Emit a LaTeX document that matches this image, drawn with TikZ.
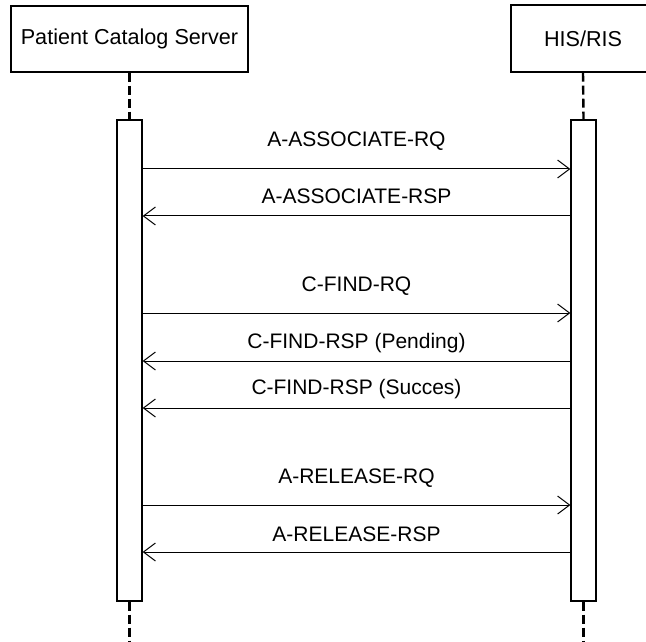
\documentclass[tikz,border=0pt]{standalone}
\usepackage{fontspec}
\setmainfont{Liberation Sans}
\usetikzlibrary{arrows.meta}
\tikzset{
	actor/.style={draw, line width=0.6pt, inner sep=0pt, font=\fontsize{10.8}{13}\selectfont},
	activation/.style={draw, line width=0.6pt, fill=white, inner sep=0pt, minimum width=12.5pt, minimum height=240.5pt},
	lifeline/.style={line width=1.2pt, dash pattern=on 4.5pt off 2pt},
	call/.style={line width=0.5pt, -{Straight Barb[length=6pt,width=9pt,line width=0.5pt]}},
	msg/.style={anchor=base, inner sep=0pt, font=\fontsize{10.5}{12}\selectfont}
}

\begin{document}
\begin{tikzpicture}[x=0.5pt, y=-0.5pt]
			%%%%% START %%%%%
			
			\useasboundingbox (0, 0) rectangle (646, 641);
			\clip (0, 0) rectangle (646, 641);
			
			% the two parties
			\node[actor, minimum width=118.5pt, minimum height=33pt] (pcs) at (129.5, 39) {Patient Catalog Server};
			\node[actor, minimum width=72pt, minimum height=33.5pt] (his) at (583, 38.5) {HIS/RIS};
			
			% activation bars
			\node[activation] (actL) at (129.5, 360.5) {};
			\node[activation] (actR) at (583.5, 360.5) {};
			
			\coordinate (endL) at (129.5, 641);
			\coordinate (endR) at (583.5, 641);
			
			\draw[lifeline] (pcs.south) -- (actL.north);
			\draw[lifeline] (his.south) -- (actR.north);
			\draw[lifeline] (actL.south) -- (endL);
			\draw[lifeline] (actR.south) -- (endR);
			
			% association
			\coordinate (y1) at (0, 169);
			\coordinate (y2) at (0, 216);
			\node[msg] (m1) at (356.5, 147) {A-ASSOCIATE-RQ};
			\draw[call] (actL.east |- y1) -- (actR.west |- y1);
			\node[msg] (m2) at (356.5, 204) {A-ASSOCIATE-RSP};
			\draw[call] (actR.west |- y2) -- (actL.east |- y2);
			
			% query
			\coordinate (y3) at (0, 313);
			\coordinate (y4) at (0, 361);
			\coordinate (y5) at (0, 408);
			\node[msg] (m3) at (356.5, 291) {C-FIND-RQ};
			\draw[call] (actL.east |- y3) -- (actR.west |- y3);
			\node[msg] (m4) at (356.5, 348) {C-FIND-RSP (Pending)};
			\draw[call] (actR.west |- y4) -- (actL.east |- y4);
			\node[msg] (m5) at (356.5, 394) {C-FIND-RSP (Succes)};
			\draw[call] (actR.west |- y5) -- (actL.east |- y5);
			
			% release
			\coordinate (y6) at (0, 505);
			\coordinate (y7) at (0, 552);
			\node[msg] (m6) at (356.5, 483) {A-RELEASE-RQ};
			\draw[call] (actL.east |- y6) -- (actR.west |- y6);
			\node[msg] (m7) at (356.5, 541) {A-RELEASE-RSP};
			\draw[call] (actR.west |- y7) -- (actL.east |- y7);
			
			%%%%% END %%%%%
\end{tikzpicture}
\end{document}
